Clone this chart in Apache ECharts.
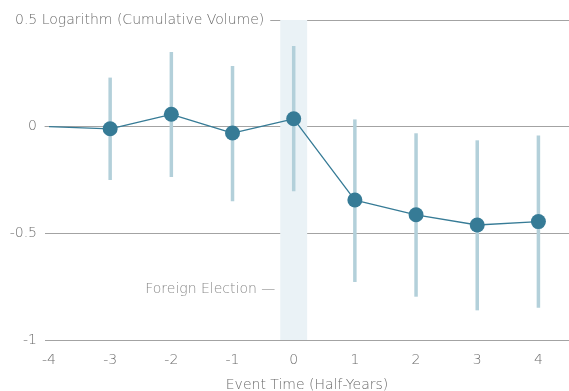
<!DOCTYPE html>
<html><head><meta charset="utf-8">
<script src="https://cdn.jsdelivr.net/npm/echarts@6/dist/echarts.min.js"></script>
<style>html,body{margin:0;padding:0;background:#fff}#c{width:569px;height:391px}</style>
</head><body><div id="c"></div>
<script>
var eventTimes = [-4, -3, -2, -1, 0, 1, 2, 3, 4];
var estimates = [0, -0.01, 0.058, -0.03, 0.037, -0.344, -0.413, -0.461, -0.445];
var upperCI = [null, 0.23, 0.35, 0.284, 0.378, 0.034, -0.031, -0.064, -0.041];
var lowerCI = [null, -0.25, -0.236, -0.35, -0.303, -0.728, -0.797, -0.861, -0.849];
var xTickValues = [-4, -3, -2, -1, 0, 1, 2, 3, 4];
var yTopLabel = '0.5 Logarithm (Cumulative Volume)';
var xAxisTitle = 'Event Time (Half-Years)';
var eventLabel = 'Foreign Election —';
var eventBand = [-0.22, 0.22];
var eventLabelPos = [-0.3, -0.763];

var FONT = 'DejaVu Sans';
var FS = 14;
var FW = 200;
var TXT = '#6c6c6c';
var lineData = eventTimes.map(function (x, i) {
  return i === 0 ? { value: [x, estimates[i]], symbolSize: 0 } : [x, estimates[i]];
});
var errData = [];
eventTimes.forEach(function (x, i) {
  if (upperCI[i] != null) errData.push([x, lowerCI[i], upperCI[i]]);
});

var chart = echarts.init(document.getElementById('c'));
chart.setOption({
  animation: false,
  grid: { left: 45, right: 0, top: 20, bottom: 51, outerBoundsMode: 'none' },
  xAxis: {
    type: 'value', min: -4.065, max: 4.5,
    axisLine: { show: true, lineStyle: { color: '#a3a3a3', width: 1 } },
    axisTick: { show: false },
    splitLine: { show: false },
    axisLabel: { customValues: xTickValues, color: TXT, fontFamily: FONT, fontSize: FS, fontWeight: FW, margin: 13 },
    name: xAxisTitle, nameLocation: 'middle', nameGap: 38,
    nameTextStyle: { color: TXT, fontFamily: FONT, fontSize: FS, fontWeight: FW }
  },
  yAxis: {
    type: 'value', min: -1, max: 0.5, interval: 0.5,
    axisLine: { show: false }, axisTick: { show: false },
    splitLine: { show: true, lineStyle: { color: '#a3a3a3', width: 1 } },
    axisLabel: {
      align: 'left', margin: 30, color: TXT, fontFamily: FONT, fontSize: FS,
      formatter: function (v) {
        if (Math.abs(v - 0.5) < 1e-9) return '{t|' + yTopLabel + '}';
        return '{n|' + v + '}';
      },
      rich: {
        n: { width: 22, align: 'right', color: TXT, fontFamily: FONT, fontSize: FS, fontWeight: FW },
        t: { backgroundColor: '#fff', padding: [2, 6, 2, 0], color: TXT, fontFamily: FONT, fontSize: FS, fontWeight: FW }
      }
    }
  },
  series: [
    {
      type: 'line', data: [], silent: true,
      markArea: {
        silent: true,
        itemStyle: { color: '#eaf2f6' },
        data: [[{ xAxis: eventBand[0], yAxis: -1 }, { xAxis: eventBand[1], yAxis: 0.5 }]]
      },
      z: 0
    },
    {
      type: 'custom', z: 2,
      data: errData,
      renderItem: function (params, api) {
        var p1 = api.coord([api.value(0), api.value(1)]);
        var p2 = api.coord([api.value(0), api.value(2)]);
        return { type: 'line', shape: { x1: p1[0], y1: p1[1], x2: p2[0], y2: p2[1] },
          style: { stroke: '#b3d0da', lineWidth: 3.5 } };
      }
    },
    {
      type: 'line', z: 3, data: lineData,
      symbol: 'circle', symbolSize: 15,
      lineStyle: { color: '#367b96', width: 1.3 },
      itemStyle: { color: '#367b96' }
    },
    {
      type: 'scatter', z: 4, symbolSize: 0, silent: true,
      data: [eventLabelPos],
      label: { show: true, position: 'left', distance: 0, formatter: eventLabel,
        color: TXT, fontFamily: FONT, fontSize: FS, fontWeight: FW }
    }
  ]
});
</script></body></html>
